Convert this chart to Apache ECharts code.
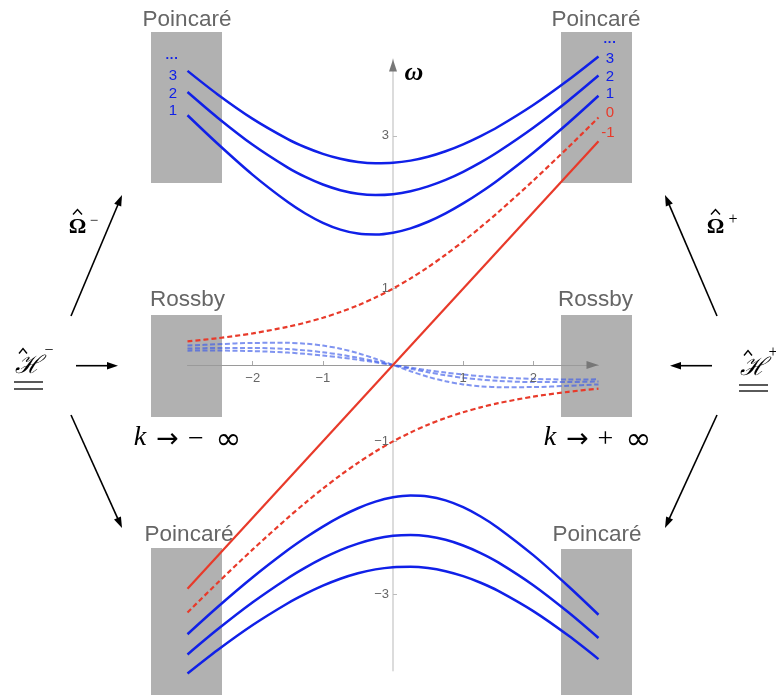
<!DOCTYPE html>
<html><head><meta charset="utf-8">
<script src="https://cdn.jsdelivr.net/npm/echarts@6/dist/echarts.min.js"></script>
<style>html,body{margin:0;padding:0;background:#fff}#c{width:776px;height:695px}</style>
</head><body><div id="c"></div>
<script>
// wavenumber samples k
const kValues = [-2.93, -2.5, -2, -1.5, -1.25, -1, -0.75, -0.5, -0.25, 0, 0.25, 0.5, 0.75, 1, 1.25, 1.5, 2, 2.5, 2.93];
// Poincaré (inertia-gravity) branches, n = 1, 2, 3
const poincareUp1 = [3.269, 2.896, 2.489, 2.132, 1.983, 1.861, 1.772, 1.720, 1.708, 1.732, 1.789, 1.875, 1.985, 2.115, 2.262, 2.423, 2.779, 3.168, 3.524];
const poincareUp2 = [3.573, 3.237, 2.882, 2.583, 2.461, 2.362, 2.288, 2.242, 2.225, 2.236, 2.274, 2.338, 2.423, 2.529, 2.652, 2.791, 3.106, 3.460, 3.789];
const poincareUp3 = [3.850, 3.542, 3.222, 2.957, 2.850, 2.764, 2.699, 2.657, 2.640, 2.646, 2.675, 2.726, 2.798, 2.889, 2.997, 3.119, 3.404, 3.731, 4.039];
const poincareDown1 = [-3.524, -3.168, -2.779, -2.423, -2.262, -2.115, -1.985, -1.875, -1.789, -1.732, -1.708, -1.720, -1.772, -1.861, -1.983, -2.132, -2.489, -2.896, -3.269];
const poincareDown2 = [-3.789, -3.460, -3.106, -2.791, -2.652, -2.529, -2.423, -2.338, -2.274, -2.236, -2.225, -2.242, -2.288, -2.362, -2.461, -2.583, -2.882, -3.237, -3.573];
const poincareDown3 = [-4.039, -3.731, -3.404, -3.119, -2.997, -2.889, -2.798, -2.726, -2.675, -2.646, -2.640, -2.657, -2.699, -2.764, -2.850, -2.957, -3.222, -3.542, -3.850];
// Rossby branches, n = 1, 2, 3
const rossby1 = [0.254, 0.272, 0.289, 0.290, 0.279, 0.254, 0.213, 0.155, 0.081, 0, -0.081, -0.155, -0.213, -0.254, -0.279, -0.290, -0.289, -0.272, -0.254];
const rossby2 = [0.216, 0.223, 0.224, 0.208, 0.191, 0.167, 0.135, 0.095, 0.049, 0, -0.049, -0.095, -0.135, -0.167, -0.191, -0.208, -0.224, -0.223, -0.216];
const rossby3 = [0.188, 0.189, 0.182, 0.163, 0.146, 0.125, 0.099, 0.069, 0.035, 0, -0.035, -0.069, -0.099, -0.125, -0.146, -0.163, -0.182, -0.189, -0.188];
// Yanai (n = 0) branches
const yanaiUp = [0.309, 0.351, 0.414, 0.5, 0.554, 0.618, 0.693, 0.781, 0.883, 1, 1.133, 1.281, 1.443, 1.618, 1.804, 2, 2.414, 2.851, 3.239];
const yanaiDown = [-3.239, -2.851, -2.414, -2, -1.804, -1.618, -1.443, -1.281, -1.133, -1, -0.883, -0.781, -0.693, -0.618, -0.554, -0.5, -0.414, -0.351, -0.309];
// Kelvin (n = -1)
const kelvinK = [-2.93, 2.93];
const kelvinW = [-2.93, 2.93];
// axis ticks
const xTickValues = [-2, -1, 1, 2];
const yTickValues = [-3, -1, 1, 3];
// text
const boxLabels = ['Poincaré', 'Rossby'];
const leftLevels = ['3', '2', '1'];
const rightLevels = ['3', '2', '1'];
const rightRed = ['0', '-1'];

const BLUE = '#1020e8', RED = '#e83a2a', ROSS = 'rgba(60,90,232,0.65)';
const pairs = (xs, ys) => xs.map((k, i) => [k, ys[i]]);
const fmt = v => String(v).replace('-', '\u2212');

const chart = echarts.init(document.getElementById('c'), null, {renderer: 'canvas'});

function lineSeries(ys, style) {
  return {type: 'line', data: pairs(kValues, ys), showSymbol: false, smooth: 0.3,
    clip: false, silent: true, animation: false, lineStyle: style, z: 3};
}
const solidBlue = {color: BLUE, width: 2.5};
const dashRed = {color: RED, width: 2.2, type: [5, 3]};
const dashRoss = {color: ROSS, width: 2, type: [5, 2.5]};

chart.setOption({
  animation: false,
  grid: {left: 187.5, top: 59.4, width: 411, height: 611.2, containLabel: false, outerBoundsMode: 'none'},
  xAxis: {
    type: 'value', min: -2.93, max: 2.93,
    axisLine: {onZero: true, lineStyle: {color: '#9a9a9a', width: 1}},
    axisTick: {show: true, inside: true, length: 4, customValues: xTickValues, lineStyle: {color: '#aaa'}},
    axisLabel: {show: false},
    splitLine: {show: false}
  },
  yAxis: {
    type: 'value', min: -4, max: 4,
    axisLine: {onZero: true, lineStyle: {color: '#dcdcdc', width: 2}},
    axisTick: {show: true, inside: true, length: 4, customValues: yTickValues, lineStyle: {color: '#bbb'}},
    axisLabel: {show: false},
    splitLine: {show: false}
  },
  series: [
    lineSeries(rossby1, dashRoss), lineSeries(rossby2, dashRoss), lineSeries(rossby3, dashRoss),
    lineSeries(poincareUp1, solidBlue), lineSeries(poincareUp2, solidBlue), lineSeries(poincareUp3, solidBlue),
    lineSeries(poincareDown1, solidBlue), lineSeries(poincareDown2, solidBlue), lineSeries(poincareDown3, solidBlue),
    lineSeries(yanaiUp, dashRed), lineSeries(yanaiDown, dashRed),
    {type: 'line', data: pairs(kelvinK, kelvinW), showSymbol: false, clip: false, silent: true,
     lineStyle: {color: RED, width: 2.2}, z: 4}
  ]
});

// ---- annotations ----
const G = [];
function txt(text, x, y, font, fill, align) {
  G.push({type: 'text', z: 20, style: {text, x, y, font, fill: fill || '#000',
    align: align || 'center', verticalAlign: 'middle', textAlign: align || 'center', textVerticalAlign: 'middle'}});
}
function rect(x, y, w, h) {
  G.push({type: 'rect', z: -10, shape: {x, y, width: w, height: h}, style: {fill: '#b1b1b1'}});
}
function seg(x1, y1, x2, y2, lw) {
  G.push({type: 'line', z: 20, shape: {x1, y1, x2, y2}, style: {stroke: '#000', lineWidth: lw || 1.3}});
}
function hat(cx, cy, w, h) {
  G.push({type: 'polyline', z: 20, shape: {points: [[cx - w / 2, cy + h / 2], [cx, cy - h / 2], [cx + w / 2, cy + h / 2]]},
    style: {stroke: '#000', lineWidth: 1.4, fill: null}});
}
function arrow(x1, y1, x2, y2, color, hl, hw, lw) {
  const dx = x2 - x1, dy = y2 - y1, L = Math.hypot(dx, dy), ux = dx / L, uy = dy / L;
  const bx = x2 - ux * hl, by = y2 - uy * hl;
  if (lw > 0) G.push({type: 'line', z: 20, shape: {x1, y1, x2: bx + ux, y2: by + uy}, style: {stroke: color, lineWidth: lw}});
  G.push({type: 'polygon', z: 21, shape: {points: [[x2, y2], [bx - uy * hw, by + ux * hw], [bx + uy * hw, by - ux * hw]]}, style: {fill: color}});
}

rect(151, 32, 71, 151); rect(561, 32, 71, 151);
rect(151, 315, 71, 102); rect(561, 315, 71, 102);
rect(151, 548, 71, 150); rect(561, 549, 71, 150);

const labFont = '22.5px "Liberation Sans", Arial, sans-serif';
txt(boxLabels[0], 187, 20, labFont, '#666'); txt(boxLabels[0], 596, 20, labFont, '#666');
txt(boxLabels[1], 187.5, 300, labFont, '#666'); txt(boxLabels[1], 595.5, 300, labFont, '#666');
txt(boxLabels[0], 189, 535, labFont, '#666'); txt(boxLabels[0], 597, 535, labFont, '#666');

const numFont = '15px "Liberation Sans", Arial, sans-serif';
txt('\u00b7\u00b7\u00b7', 172, 58, 'bold 13px "Liberation Sans"', BLUE);
leftLevels.forEach((t, i) => txt(t, 173, 76 + i * 17.5, numFont, BLUE));
txt('\u00b7\u00b7\u00b7', 610, 42, 'bold 13px "Liberation Sans"', BLUE);
rightLevels.forEach((t, i) => txt(t, 610, 59 + i * 17.5, numFont, BLUE));
txt(rightRed[0], 610, 113, numFont, RED);
txt(rightRed[1], 608, 133, numFont, RED);

// tick labels placed along the zero lines via the axes' own scales
const tickFont = '13px "Liberation Sans", Arial, sans-serif';
xTickValues.forEach(v => {
  const p = chart.convertToPixel({gridIndex: 0}, [v, 0]);
  txt(fmt(v), p[0], p[1] + 13, tickFont, '#666');
});
yTickValues.forEach(v => {
  const p = chart.convertToPixel({gridIndex: 0}, [0, v]);
  txt(fmt(v), p[0] - 4, p[1], tickFont, '#666', 'right');
});

// omega axis label
txt('\u03c9', 414, 73, 'bold italic 26px "Liberation Serif", "DejaVu Serif", serif', '#000');

// k -> ±infinity
const serif = '"Liberation Serif", "DejaVu Serif", serif';
const sans = '"DejaVu Sans", sans-serif';
txt('k', 140, 438, 'italic 28px ' + serif); txt('\u2192', 167.5, 440, '27px ' + sans);
txt('\u2212', 196, 440, '28px ' + serif); txt('\u221e', 228.5, 441, '31px ' + sans);
txt('k', 550, 438, 'italic 28px ' + serif); txt('\u2192', 577.5, 440, '27px ' + sans);
txt('+', 605.5, 440, '28px ' + serif); txt('\u221e', 638.5, 441, '31px ' + sans);

// Omega hats
txt('\u03a9', 77.5, 227, 'bold 22px "Liberation Serif", serif'); hat(77.5, 212, 9, 5);
txt('\u2212', 94, 221, '15px "Liberation Serif", serif');
txt('\u03a9', 715.5, 227, 'bold 22px "Liberation Serif", serif'); hat(715.5, 212, 9, 5);
txt('+', 733, 220, '16px "Liberation Serif", serif');

// script H with hat and double underline
function scriptH(cx, cy, sup, supX, ul1, ul2) {
  txt('\u210b', cx, cy, 'italic 25px "DejaVu Serif", serif');
  hat(cx - 5, cy - 15, 8, 5);
  txt(sup, supX, cy - 15, '16px "Liberation Serif", serif');
  seg(cx - 14, ul1, cx + 15, ul1);
  seg(cx - 14, ul2, cx + 15, ul2);
}
scriptH(28, 366, '\u2212', 49, 382, 389);
scriptH(753, 368, '+', 773, 385, 391);

// black arrows
arrow(71, 316, 122, 195, '#000', 11, 3.8, 1.6);
arrow(76, 365.7, 118, 365.7, '#000', 11, 3.8, 1.6);
arrow(71, 415, 122, 528, '#000', 11, 3.8, 1.6);
arrow(717, 316, 665, 195, '#000', 11, 3.8, 1.6);
arrow(712, 365.7, 670, 365.7, '#000', 11, 3.8, 1.6);
arrow(717, 415, 665, 528, '#000', 11, 3.8, 1.6);

// axis arrowheads
const xEnd = chart.convertToPixel({gridIndex: 0}, [2.93, 0]);
const yEnd = chart.convertToPixel({gridIndex: 0}, [0, 4]);
arrow(xEnd[0] - 20, xEnd[1], xEnd[0], xEnd[1], '#777', 12, 4, 0);
arrow(yEnd[0], yEnd[1] + 20, yEnd[0], yEnd[1], '#777', 12, 4, 0);

chart.setOption({graphic: {elements: G}});
</script></body></html>
